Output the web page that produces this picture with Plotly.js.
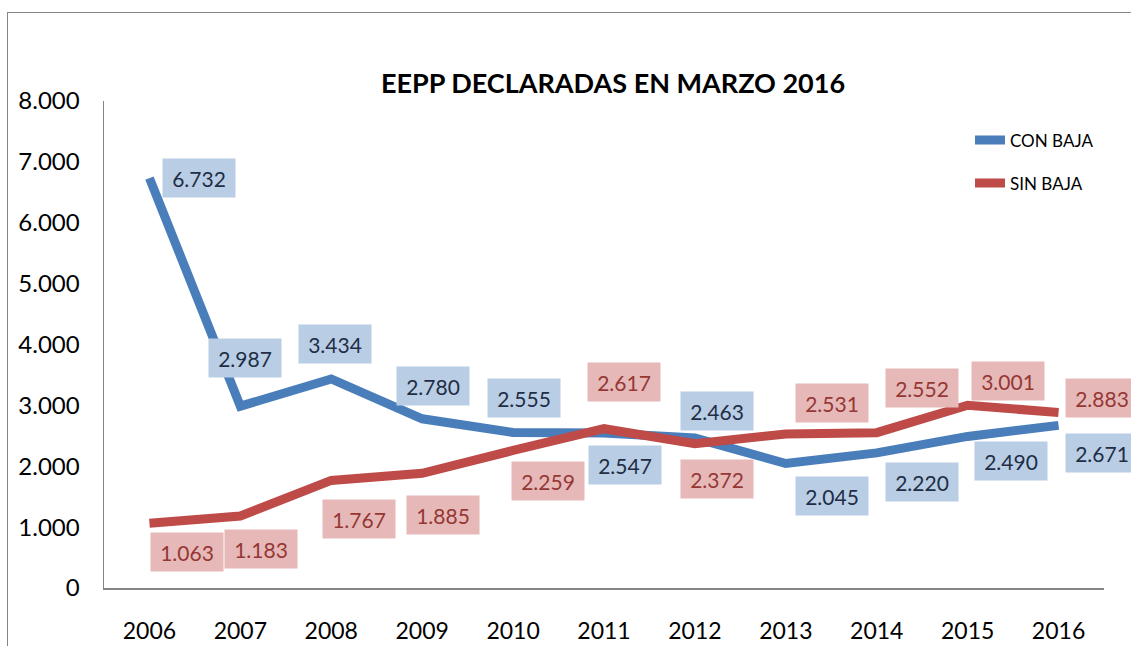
<!DOCTYPE html>
<html><head><meta charset="utf-8">
<script src="https://cdn.plot.ly/plotly-3.0.1.min.js"></script>
<style>
html,body{margin:0;padding:0;background:#fff;overflow:hidden}
#frame{position:absolute;left:7px;top:12px;width:1200px;height:700px;border-left:1.5px solid #868686;border-top:1.5px solid #868686;pointer-events:none}
#chart{position:absolute;left:0;top:0;width:1131px;height:646px}
</style></head>
<body>
<div id="chart"></div>
<div id="frame"></div>
<script>
const years = ['2006','2007','2008','2009','2010','2011','2012','2013','2014','2015','2016'];
const conBaja = [6732, 2987, 3434, 2780, 2555, 2547, 2463, 2045, 2220, 2490, 2671];
const sinBaja = [1063, 1183, 1767, 1885, 2259, 2617, 2372, 2531, 2552, 3001, 2883];
const yTicks = [0, 1000, 2000, 3000, 4000, 5000, 6000, 7000, 8000];

// label offsets (px) – styling only
const conShift = [[50,0],[5,48],[4,35],[11,33],[11,34],[21,-32],[22,27],[46,-32],[45,-29],[43,-25],[43,-28]];
const sinShift = [[38,-29],[21,-33],[28,-39],[21,-42],[35,-31],[20,47],[22,-35],[46,31],[45,45],[40,24],[43,15]];

function fmt(v){ return String(v).replace(/\B(?=(\d{3})+(?!\d))/g,'.'); }

const blue = '#4a7ebb', red = '#be4b48';
const font = "Lato, 'Open Sans', sans-serif";

const annotations = [];
years.forEach((yr,i)=>{
  annotations.push({xref:'x', yref:'y', x:i, y:conBaja[i], text:fmt(conBaja[i]), showarrow:false,
    xshift:conShift[i][0], yshift:conShift[i][1], bgcolor:'#b9cde5', borderpad:1, width:70, height:36,
    font:{family:font, size:21, color:'#1f2d45'}});
  annotations.push({xref:'x', yref:'y', x:i, y:sinBaja[i], text:fmt(sinBaja[i]), showarrow:false,
    xshift:sinShift[i][0], yshift:sinShift[i][1], bgcolor:'#e6b9b8', borderpad:1, width:70, height:36,
    font:{family:font, size:21, color:'#953735'}});
});

const data = [
  {x:years, y:conBaja, name:'CON BAJA', legendgroup:'a', type:'scatter', mode:'lines', line:{color:blue, width:9}},
  {x:years, y:sinBaja, name:'SIN BAJA', legendgroup:'b', type:'scatter', mode:'lines', line:{color:red, width:9}}
];

const layout = {
  width:1131, height:646,
  margin:{l:104, r:27, t:101, b:58},
  paper_bgcolor:'rgba(0,0,0,0)', plot_bgcolor:'#fff',
  separators:',.',
  title:{text:'<b>EEPP DECLARADAS EN MARZO 2016</b>', x:0.542, xanchor:'center', y:0.87, yanchor:'middle',
    font:{family:font, size:27, color:'#000'}},
  xaxis:{type:'category', range:[-0.5,10.5], showline:true, linecolor:'#868686', linewidth:1.5,
    showgrid:false, zeroline:false, ticks:'', ticklabelstandoff:22,
    tickfont:{family:font, size:23, color:'#000'}},
  yaxis:{range:[0,8000], tickvals:yTicks, ticktext:yTicks.map(fmt), showline:true, linecolor:'#868686', linewidth:1.5,
    showgrid:false, zeroline:false, ticks:'', ticklabelstandoff:18,
    tickfont:{family:font, size:24, color:'#000'}},
  legend:{x:0.866, y:0.956, xanchor:'left', yanchor:'top', bgcolor:'rgba(0,0,0,0)',
    font:{family:font, size:17, color:'#000'}, tracegroupgap:18},
  showlegend:true,
  annotations:annotations
};

Plotly.newPlot('chart', data, layout, {displayModeBar:false, staticPlot:true});
</script>
</body></html>
